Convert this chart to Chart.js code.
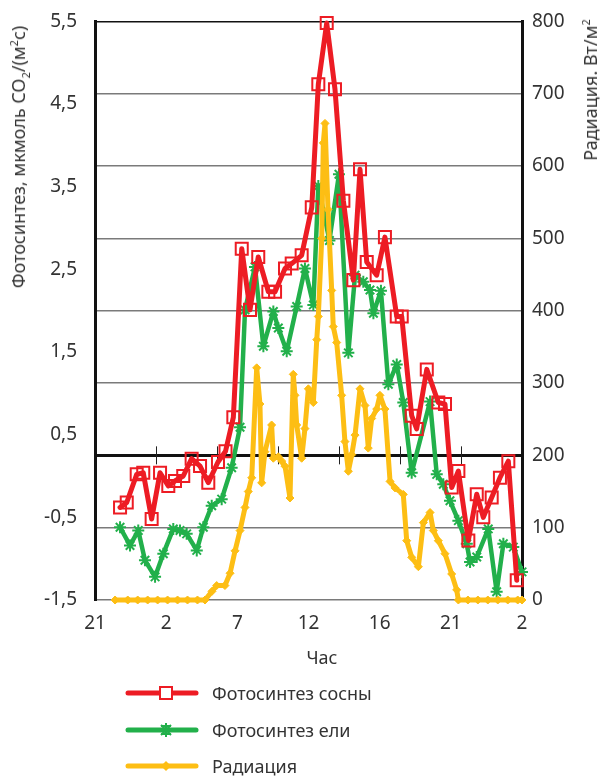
<!DOCTYPE html>
<html>
<head>
<meta charset="utf-8">
<script src="https://cdn.jsdelivr.net/npm/chart.js@4/dist/chart.umd.min.js"></script>
<style>
  html, body { margin: 0; padding: 0; background: #fff; }
  #wrap { position: relative; width: 601px; height: 778px; font-family: 'Noto Sans', sans-serif; color: #333; }
  #wrap canvas { position: absolute; left: 0; top: 0; }
  .rot { position: absolute; white-space: nowrap; transform: translate(-50%, -50%) rotate(-90deg); font-size: 18px; line-height: 1; }
  .rot sub, .rot sup { font-size: 11px; line-height: 0; }
  .xtitle { position: absolute; left: 322px; top: 657px; transform: translate(-50%, -50%); font-size: 18px; }
  .lg { position: absolute; left: 125px; height: 22px; display: flex; align-items: center; font-size: 18px; transform: translateY(-50%); }
  .lg svg { margin-right: 13px; }
</style>
</head>
<body>
<div id="wrap">
  <canvas id="chart" width="601" height="778"></canvas>
  <div class="rot" style="left:18px; top:157px;">Фотосинтез, мкмоль CO<sub>2</sub>/(м<sup>2</sup>с)</div>
  <div class="rot" style="left:590px; top:90px;">Радиация. Вт/м<sup>2</sup></div>
  <div class="xtitle">Час</div>
  <div class="lg" style="top:693px;">
    <svg width="74" height="22"><line x1="3" y1="11" x2="71" y2="11" stroke="#ED1C24" stroke-width="5" stroke-linecap="round"/><rect x="35" y="5" width="12" height="12" fill="#fff" stroke="#ED1C24" stroke-width="2"/></svg>
    <span>Фотосинтез сосны</span>
  </div>
  <div class="lg" style="top:730px;">
    <svg width="74" height="22"><line x1="3" y1="11" x2="71" y2="11" stroke="#22B04B" stroke-width="5" stroke-linecap="round"/><g stroke="#22B04B" stroke-width="2"><line x1="41" y1="4" x2="41" y2="18"/><line x1="36" y1="6" x2="46" y2="16"/><line x1="46" y1="6" x2="36" y2="16"/><line x1="36" y1="7" x2="46" y2="7"/><line x1="36" y1="15" x2="46" y2="15"/></g></svg>
    <span>Фотосинтез ели</span>
  </div>
  <div class="lg" style="top:766px;">
    <svg width="74" height="22"><line x1="3" y1="11" x2="71" y2="11" stroke="#FDBE14" stroke-width="5" stroke-linecap="round"/><polygon points="41,6 46,11 41,16 36,11" fill="#FDBE14"/></svg>
    <span>Радиация</span>
  </div>
</div>
<script>
// Hour axis: one unit per hour starting at 21:00; labels every 5 units
const xTickLabels = ['21', '2', '7', '12', '16', '21', '2'];

// Pine photosynthesis, µmol CO2/(m2 s)
const pineTime = [1.76, 2.23, 2.93, 3.39, 3.98, 4.57, 5.15, 5.62, 6.20, 6.79, 7.38, 7.96, 8.64, 9.17, 9.72,
  10.31, 10.89, 11.47, 12.18, 12.65, 13.35, 13.82, 14.52, 15.23, 15.69, 16.28, 16.86, 17.45, 18.15, 18.62,
  19.09, 19.79, 20.37, 21.20, 21.55, 22.25, 22.60, 23.31, 24.12, 24.59, 25.06, 25.53, 26.23, 26.82, 27.28,
  27.87, 28.45, 29.04, 29.63];
const pineRate = [-0.38, -0.32, 0.02, 0.04, -0.52, 0.04, -0.12, -0.06, 0.00, 0.21, 0.12, -0.08, 0.17, 0.30, 0.71,
  2.75, 2.01, 2.65, 2.23, 2.23, 2.51, 2.57, 2.67, 3.25, 4.74, 5.48, 4.68, 3.33, 2.37, 3.71,
  2.59, 2.43, 2.89, 1.93, 1.93, 0.73, 0.57, 1.29, 0.89, 0.87, -0.14, 0.06, -0.78, -0.22, -0.50,
  -0.26, -0.02, 0.18, -1.26];

// Spruce photosynthesis, µmol CO2/(m2 s)
const spruceTime = [1.76, 2.46, 3.04, 3.51, 4.22, 4.80, 5.50, 5.97, 6.44, 7.15, 7.61, 8.20, 8.90, 9.60, 10.19,
  10.54, 11.24, 11.83, 12.53, 12.88, 13.47, 14.17, 14.75, 15.34, 15.69, 16.47, 17.14, 17.80, 18.27, 18.85,
  19.32, 19.56, 20.09, 20.61, 21.20, 21.66, 22.25, 23.54, 24.01, 24.47, 24.94, 25.53, 26.12, 26.35, 26.82,
  27.63, 28.22, 28.69, 29.39, 30.00];
const spruceRate = [-0.62, -0.84, -0.66, -1.02, -1.22, -0.94, -0.64, -0.66, -0.70, -0.90, -0.62, -0.36, -0.28, 0.10, 0.59,
  2.01, 2.53, 1.57, 1.99, 1.79, 1.51, 2.05, 2.51, 2.07, 3.51, 2.85, 3.65, 1.49, 2.43, 2.35,
  2.25, 1.97, 2.24, 1.11, 1.35, 0.89, 0.04, 0.90, 0.02, -0.10, -0.30, -0.54, -0.82, -1.04, -0.98,
  -0.64, -1.40, -0.82, -0.86, -1.16];

// Solar radiation, W/m2
const radTime = [1.41, 2.3, 3.0, 3.7, 4.4, 5.1, 5.8, 6.5, 7.2, 7.73, 8.22, 8.55, 9.13, 9.49, 9.84,
  10.19, 10.54, 10.77, 11.01, 11.36, 11.59, 11.71, 11.94, 12.41, 12.53, 12.88, 13.12, 13.35, 13.70, 13.93,
  14.05, 14.17, 14.52, 14.75, 14.99, 15.34, 15.58, 15.69, 15.93, 16.04, 16.16, 16.37, 16.63, 16.74, 16.98,
  17.33, 17.56, 17.80, 18.04, 18.27, 18.62, 18.97, 19.20, 19.44, 19.79, 20.02, 20.37, 20.73, 21.08, 21.66,
  21.90, 22.25, 22.72, 23.07, 23.54, 23.77, 24.12, 24.59, 25.06, 25.41, 25.53, 26.2, 26.9, 27.6, 28.3,
  29.0, 29.7, 30.0];
const radValue = [0, 0, 0, 0, 0, 0, 0, 0, 0, 0, 12, 20, 20, 37, 68,
  96, 128, 150, 169, 321, 271, 162, 205, 242, 196, 198, 192, 185, 141, 312,
  283, 242, 196, 237, 292, 273, 360, 392, 500, 632, 659, 540, 428, 378, 356,
  283, 219, 178, 201, 228, 292, 269, 210, 251, 264, 283, 264, 164, 155, 146,
  82, 59, 46, 107, 121, 96, 82, 64, 36, 14, 0, 0, 0, 0, 0,
  0, 0, 0];

const RED = '#ED1C24', GREEN = '#22B04B', YELLOW = '#FDBE14';
const toPoints = (xs, ys) => xs.map((x, i) => ({ x: x, y: ys[i] }));
const tickFont = { family: "'Noto Sans', sans-serif", size: 19 };

// Short vertical marks crossing the mid axis line at each of its ticks
const midAxisMarks = {
  id: 'midAxisMarks',
  beforeDatasetsDraw(chart) {
    const s = chart.scales.xMid, yR = chart.scales.yR;
    const y = yR.getPixelForValue(200);
    const ctx = chart.ctx;
    ctx.save();
    ctx.strokeStyle = '#222';
    ctx.lineWidth = 1;
    s.ticks.forEach(t => {
      if (t.value <= s.min || t.value >= s.max) return;
      const x = Math.round(s.getPixelForValue(t.value)) + 0.5;
      ctx.beginPath();
      ctx.moveTo(x, y - 9);
      ctx.lineTo(x, y + 9);
      ctx.stroke();
    });
    ctx.restore();
  }
};

new Chart(document.getElementById('chart'), {
  type: 'line',
  data: {
    datasets: [
      {
        label: 'Фотосинтез сосны', data: toPoints(pineTime, pineRate),
        xAxisID: 'x', yAxisID: 'yL', order: 1, clip: false,
        borderColor: RED, borderWidth: 5, borderJoinStyle: 'round', borderCapStyle: 'round',
        pointStyle: 'rect', pointRadius: 8.5, pointBorderWidth: 2,
        pointBorderColor: RED, pointBackgroundColor: 'rgba(255,255,255,0)'
      },
      {
        label: 'Фотосинтез ели', data: toPoints(spruceTime, spruceRate),
        xAxisID: 'x', yAxisID: 'yL', order: 3, clip: false,
        borderColor: GREEN, borderWidth: 4.5, borderJoinStyle: 'round', borderCapStyle: 'round',
        pointStyle: 'star', pointRadius: 6, pointBorderWidth: 2,
        pointBorderColor: GREEN, pointBackgroundColor: GREEN
      },
      {
        label: 'Радиация', data: toPoints(radTime, radValue),
        xAxisID: 'x', yAxisID: 'yR', order: 2, clip: false,
        borderColor: YELLOW, borderWidth: 5, borderJoinStyle: 'round', borderCapStyle: 'round',
        pointStyle: 'rectRot', pointRadius: 4, pointBorderWidth: 1,
        pointBorderColor: YELLOW, pointBackgroundColor: YELLOW
      }
    ]
  },
  options: {
    responsive: false,
    animation: false,
    devicePixelRatio: 1,
    layout: { padding: { left: 0, right: 0, top: 15, bottom: 0 } },
    plugins: { legend: { display: false }, tooltip: { enabled: false } },
    scales: {
      x: {
        type: 'linear', position: 'bottom', min: 0, max: 30,
        ticks: { stepSize: 5, autoSkip: false, maxRotation: 0, padding: 12, color: '#333', font: tickFont,
                 callback: v => xTickLabels[Math.round(v / 5)] },
        grid: { display: false, drawTicks: false },
        border: { display: false },
        afterFit: s => { s.height = 178; }
      },
      yL: {
        type: 'linear', position: 'left', min: -1.5, max: 5.5,
        ticks: { stepSize: 1, padding: 10, color: '#333', font: tickFont,
                 callback: v => v.toFixed(1).replace('.', ',') },
        grid: { display: false },
        border: { color: '#111', width: 3 },
        afterFit: s => { s.width = 95; }
      },
      yR: {
        type: 'linear', position: 'right', min: 0, max: 800,
        ticks: { stepSize: 100, padding: 10, color: '#333', font: tickFont },
        grid: {
          drawTicks: false,
          color: c => (c.tick && c.tick.value === 800) ? '#111' : '#7a7a7a',
          lineWidth: 1.5
        },
        border: { color: '#111', width: 3 },
        afterFit: s => { s.width = 79; }
      },
      xMid: {
        type: 'linear', axis: 'x', position: { yR: 200 }, min: 0, max: 7,
        ticks: { display: false, stepSize: 1 },
        grid: { drawOnChartArea: false, drawTicks: false },
        border: { color: '#111', width: 3 },
        afterFit: s => { s.height = 0; }
      }
    }
  },
  plugins: [midAxisMarks]
});
</script>
</body>
</html>
